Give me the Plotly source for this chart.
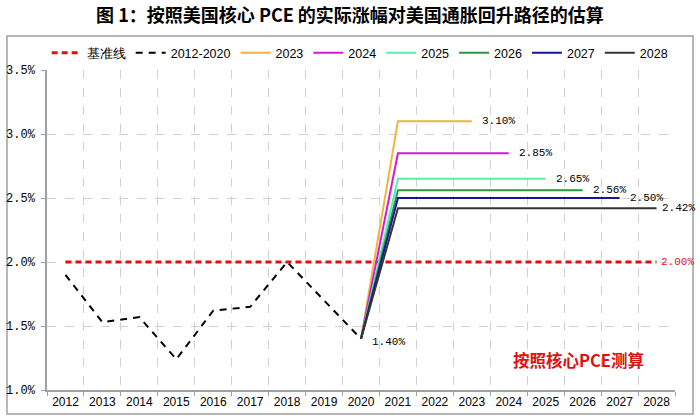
import plotly.graph_objects as go

# ---------------- data ----------------
categories = ["2012", "2013", "2014", "2015", "2016", "2017", "2018", "2019", "2020",
              "2021", "2022", "2023", "2024", "2025", "2026", "2027", "2028"]

baseline_x = ["2012", "2028"]
baseline_y = [2.00, 2.00]

hist_x = ["2012", "2013", "2014", "2015", "2016", "2017", "2018", "2019", "2020"]
hist_y = [1.90, 1.53, 1.57, 1.24, 1.62, 1.65, 2.00, 1.70, 1.40]

s2023_x = ["2020", "2021", "2022", "2023"]
s2023_y = [1.40, 3.10, 3.10, 3.10]
s2024_x = ["2020", "2021", "2022", "2023", "2024"]
s2024_y = [1.40, 2.85, 2.85, 2.85, 2.85]
s2025_x = ["2020", "2021", "2022", "2023", "2024", "2025"]
s2025_y = [1.40, 2.65, 2.65, 2.65, 2.65, 2.65]
s2026_x = ["2020", "2021", "2022", "2023", "2024", "2025", "2026"]
s2026_y = [1.40, 2.56, 2.56, 2.56, 2.56, 2.56, 2.56]
s2027_x = ["2020", "2021", "2022", "2023", "2024", "2025", "2026", "2027"]
s2027_y = [1.40, 2.50, 2.50, 2.50, 2.50, 2.50, 2.50, 2.50]
s2028_x = ["2020", "2021", "2022", "2023", "2024", "2025", "2026", "2027", "2028"]
s2028_y = [1.40, 2.42, 2.42, 2.42, 2.42, 2.42, 2.42, 2.42, 2.42]

y_ticks = [1.0, 1.5, 2.0, 2.5, 3.0, 3.5]
y_ticklabels = ["1.0%", "1.5%", "2.0%", "2.5%", "3.0%", "3.5%"]

scenarios = [
    ("2023", s2023_x, s2023_y, "#F0B43C", 8),
    ("2024", s2024_x, s2024_y, "#D818D8", 8),
    ("2025", s2025_x, s2025_y, "#55F0A8", 8),
    ("2026", s2026_x, s2026_y, "#2E9444", 8),
    ("2027", s2027_x, s2027_y, "#1414A0", 8),
    ("2028", s2028_x, s2028_y, "#36362C", 3),
]

def idx(cat):
    return categories.index(cat)

# ---------------- figure ----------------
fig = go.Figure()
fig.add_trace(go.Scatter(x=baseline_x, y=baseline_y, mode="lines", name="基准线",
                         line=dict(color="#E01010", width=3, dash="6px,4px")))
fig.add_trace(go.Scatter(x=hist_x, y=hist_y, mode="lines", name="2012-2020",
                         line=dict(color="#000000", width=2, dash="7px,6px")))
for name, xs, ys, col, _ in scenarios:
    fig.add_trace(go.Scatter(x=xs, y=ys, mode="lines", name=name,
                             line=dict(color=col, width=2)))

label_font = dict(family="Liberation Mono, DejaVu Sans Mono, monospace", size=11, color="#000000")
for name, xs, ys, col, shift in scenarios:
    fig.add_annotation(x=idx(xs[-1]), y=ys[-1], text=f"{ys[-1]:.2f}%", showarrow=False,
                       xanchor="left", yanchor="middle", xshift=shift, font=label_font)
fig.add_annotation(x=idx(baseline_x[-1]), y=baseline_y[-1], text=f"{baseline_y[-1]:.2f}%",
                   showarrow=False, xanchor="left", yanchor="middle", xshift=2,
                   font=dict(family=label_font["family"], size=11, color="#E01010"))
fig.add_annotation(x=idx(hist_x[-1]), y=hist_y[-1], text=f"{hist_y[-1]:.2f}%", showarrow=False,
                   xanchor="left", yanchor="middle", xshift=9, yshift=-3, font=label_font)
fig.add_annotation(x=0.847, y=0.095, xref="paper", yref="paper", text="<b>按照核心PCE测算</b>",
                   showarrow=False, xanchor="center", yanchor="middle",
                   font=dict(family="Noto Sans CJK SC", size=16.5, color="#E01010"))

# outer border
fig.add_shape(type="rect", xref="paper", yref="paper",
              x0=-0.0637, x1=1.0287, y0=-0.075, y1=1.106,
              line=dict(color="#A0A0A0", width=1.5), layer="below")

fig.update_layout(
    width=700, height=420,
    margin=dict(l=47, r=25, t=70, b=30, autoexpand=False),
    paper_bgcolor="white", plot_bgcolor="white",
    title=dict(text="<b>图 1：按照美国核心 PCE 的实际涨幅对美国通胀回升路径的估算</b>",
               x=0.5, xref="container", y=0.963, yref="container", xanchor="center", yanchor="middle",
               font=dict(family="Noto Sans CJK SC", size=18, color="#000000")),
    showlegend=True,
    legend=dict(orientation="h", xref="paper", yref="paper", x=-0.0005, xanchor="left",
                y=1.053, yanchor="middle",
                font=dict(family="Liberation Sans, sans-serif", size=12.5, color="#000000"),
                itemwidth=30, bgcolor="rgba(0,0,0,0)", tracegroupgap=0),
    font=dict(family="Liberation Sans, sans-serif", color="#000000"),
)
fig.update_xaxes(type="category", categoryorder="array", categoryarray=categories,
                 range=[-0.5, 16.5], tickson="boundaries", showgrid=True, gridcolor="#D0D0D0",
                 griddash="dash", gridwidth=1, showline=True, linecolor="#A0A0A0", linewidth=1.5,
                 ticks="outside", ticklen=4, tickcolor="#A0A0A0", tickangle=0,
                 tickfont=dict(family="Liberation Sans, sans-serif", size=12, color="#000000"),
                 zeroline=False, fixedrange=True)
fig.update_yaxes(range=[1.0, 3.5], tickvals=y_ticks, ticktext=y_ticklabels,
                 showgrid=True, gridcolor="#D0D0D0", griddash="dash", gridwidth=1,
                 showline=True, linecolor="#A0A0A0", linewidth=1.5,
                 ticks="outside", ticklen=4, tickcolor="#A0A0A0", ticklabelstandoff=4,
                 tickfont=dict(family="Liberation Mono, DejaVu Sans Mono, monospace", size=12, color="#000000"),
                 zeroline=False, fixedrange=True)

fig.write_html("out.html", config={"displayModeBar": False},
               post_script="document.body.style.margin='0';document.body.style.overflow='hidden';")
